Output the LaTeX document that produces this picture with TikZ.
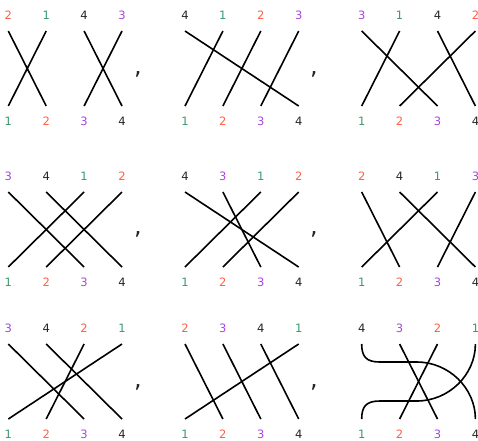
\documentclass[tikz,border=0pt]{standalone}
\usepackage{fontspec}
\setmainfont{DejaVu Sans}

\definecolor{one}{HTML}{3A9A6C}
\definecolor{two}{HTML}{FF5E45}
\definecolor{three}{HTML}{A447DC}
\definecolor{four}{HTML}{262626}

\newcommand\pcol{37.9}

\tikzset{
  lab/.style={inner sep=0pt, font=\fontsize{11.5}{13}\selectfont},
  lab1/.style={lab, text=one},
  lab2/.style={lab, text=two},
  lab3/.style={lab, text=three},
  lab4/.style={lab, text=four},
  strand/.style={line width=1.6pt, black},
  sep/.style={inner sep=0pt, font=\fontsize{24}{26}\selectfont, text=four},
}

\begin{document}
\begin{tikzpicture}[x=1pt,y=-1pt]
  \useasboundingbox (0,0) rectangle (478,440);

  % Straight permutations
  \foreach \n/\px/\py/\p in {pa/8.3/31/{2,1,4,3}, pb/185/31/{4,1,2,3}, pc/361.7/31/{3,1,4,2},
                             pd/8.3/192/{3,4,1,2}, pe/185/192/{4,3,1,2}, pf/361.7/192/{2,4,1,3},
                             pg/8.3/344/{3,4,2,1}, ph/185/344/{2,3,4,1}} {
    \begin{scope}[shift={(\px,\py)}]
      \foreach \k in {1,...,4} {
        \coordinate (\n-b\k) at ({(\k-1)*\pcol},75);
        \node[lab\k] (\n-lb\k) at ({(\k-1)*\pcol},90) {\k};
      }
      \foreach \v [count=\i] in \p {
        \coordinate (\n-t\i) at ({(\i-1)*\pcol},0);
        \node[lab\v] (\n-lt\i) at ({(\i-1)*\pcol},-15.5) {\v};
        \draw[strand] (\n-t\i) -- (\n-b\v);
      }
    \end{scope}
  }

  % Last one, with the two bent strands
  \begin{scope}[shift={(361.7,344)}]
    \foreach \k in {1,...,4} {
      \coordinate (pi-b\k) at ({(\k-1)*\pcol},75);
      \node[lab\k] (pi-lb\k) at ({(\k-1)*\pcol},90) {\k};
    }
    \foreach \v [count=\i] in {4,3,2,1} {
      \coordinate (pi-t\i) at ({(\i-1)*\pcol},0);
      \node[lab\v] (pi-lt\i) at ({(\i-1)*\pcol},-15.5) {\v};
    }
  \end{scope}
  \draw[strand] (pi-t2) -- (pi-b3);
  \draw[strand] (pi-t3) -- (pi-b2);
  \draw[strand] (pi-t1) .. controls +(0,12) and +(-14,0) .. ++(18,18)
    -- ++(37,0) .. controls +(32,0) and +(0,-31) .. (pi-b4);
  \draw[strand] (pi-t4) .. controls +(0,31) and +(32,0) .. ++(-58.7,57)
    -- ++(-37,0) .. controls +(-14,0) and +(0,-12) .. (pi-b1);

  % Commas
  \node[sep] (ca) at (138,74)  {,};
  \node[sep] (cb) at (314,74)  {,};
  \node[sep] (cc) at (138,234) {,};
  \node[sep] (cd) at (314,234) {,};
  \node[sep] (ce) at (138,387) {,};
  \node[sep] (cf) at (314,387) {,};
\end{tikzpicture}
\end{document}
